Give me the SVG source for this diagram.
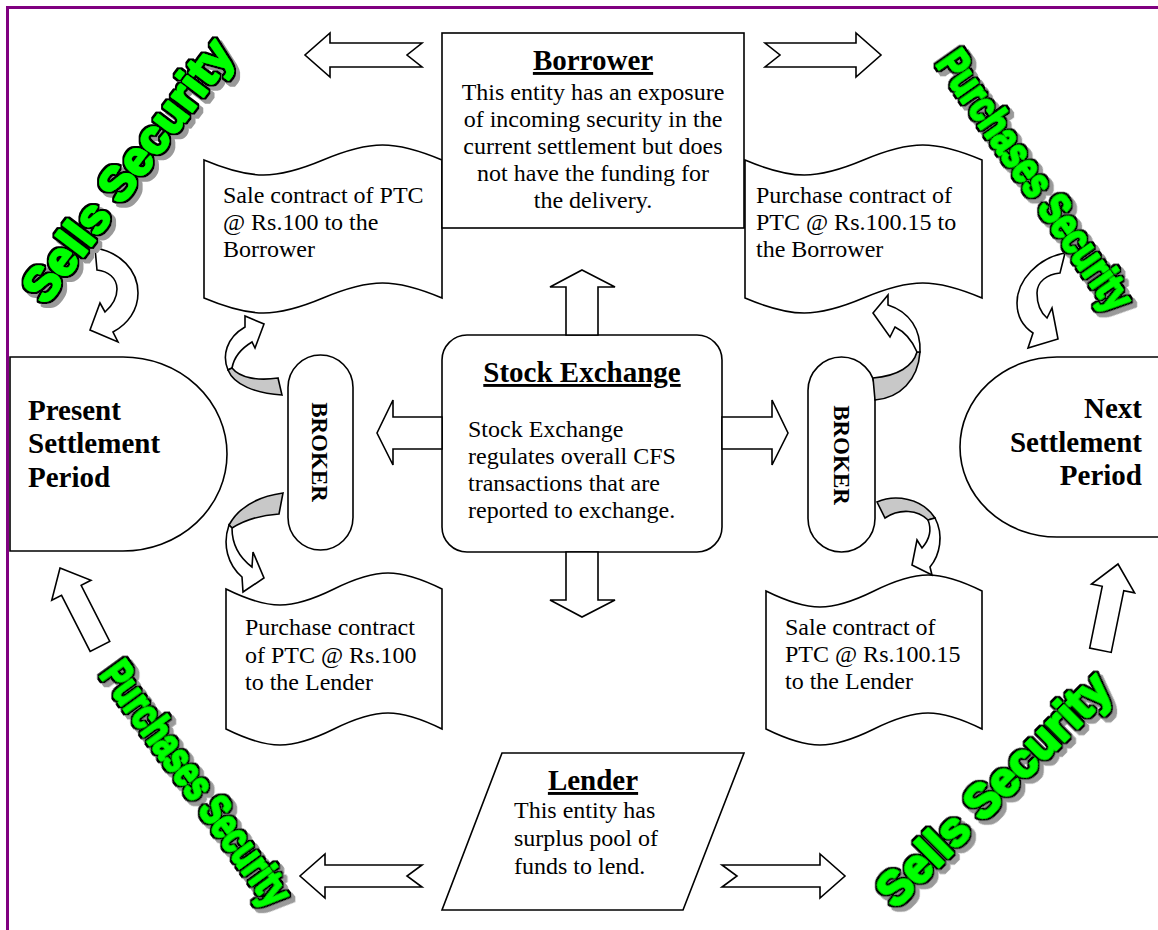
<svg xmlns="http://www.w3.org/2000/svg" width="1158" height="930" viewBox="0 0 1158 930">
<style>
.s{fill:#fff;stroke:#000;stroke-width:1.6;stroke-linejoin:miter}
.g{fill:#c8c8c8;stroke:#000;stroke-width:1.6}
.t{font-family:"Liberation Serif","Times New Roman",serif;font-size:24px;fill:#000}
.tb{font-family:"Liberation Serif","Times New Roman",serif;font-size:29px;font-weight:bold;fill:#000}
.u{text-decoration:underline}
.bk{font-family:"Liberation Serif","Times New Roman",serif;font-size:23px;font-weight:bold;fill:#000}
.wa{font-family:"Liberation Sans",Arial,sans-serif;font-weight:bold;fill:#00ff00;stroke:#00ff00;stroke-width:2.2;stroke-linejoin:round}
</style>
<defs>
<filter id="waf" filterUnits="userSpaceOnUse" x="0" y="0" width="1158" height="930">
<feMorphology in="SourceAlpha" operator="dilate" radius="2" result="d"/>
<feFlood flood-color="#000"/>
<feComposite in2="d" operator="in" result="outline"/>
<feFlood flood-color="#9a9a9a"/>
<feComposite in2="d" operator="in"/>
<feOffset dx="4" dy="4" result="shadow"/>
<feMerge><feMergeNode in="shadow"/><feMergeNode in="outline"/><feMergeNode in="SourceGraphic"/></feMerge>
</filter>
</defs>
<rect x="0" y="0" width="1158" height="930" fill="#fff"/>
<rect x="7.5" y="7.5" width="1200" height="1000" fill="none" stroke="#800080" stroke-width="3"/>

<g id="scroll-sale-borrower">
<path class="s" d="M204,160 C251.6,180 275.4,180 323,160 C370.6,140 394.4,140 442,160 L442,298 C394.4,278 370.6,278 323,298 C275.4,318 251.6,318 204,298 Z"/>
<text class="t" x="223" y="203">Sale contract of PTC</text>
<text class="t" x="223" y="230">@ Rs.100 to the</text>
<text class="t" x="223" y="257">Borrower</text>
</g>
<g id="scroll-purchase-borrower">
<path class="s" d="M745,160 C792.4,180 816.1,180 863.5,160 C910.9,140 934.6,140 982,160 L982,298 C934.6,278 910.9,278 863.5,298 C816.1,318 792.4,318 745,298 Z"/>
<text class="t" x="756" y="203">Purchase contract of</text>
<text class="t" x="756" y="230">PTC @ Rs.100.15 to</text>
<text class="t" x="756" y="257">the Borrower</text>
</g>
<g id="scroll-purchase-lender">
<path class="s" d="M226,589 C269.2,610.3 290.8,610.3 334,589 C377.2,567.7 398.8,567.7 442,589 L442,729 C398.8,707.7 377.2,707.7 334,729 C290.8,750.3 269.2,750.3 226,729 Z"/>
<text class="t" x="245" y="635">Purchase contract</text>
<text class="t" x="245" y="663">of PTC @ Rs.100</text>
<text class="t" x="245" y="690">to the Lender</text>
</g>
<g id="scroll-sale-lender">
<path class="s" d="M766,591 C809.2,612.3 830.8,612.3 874,591 C917.2,569.7 938.8,569.7 982,591 L982,729 C938.8,707.7 917.2,707.7 874,729 C830.8,750.3 809.2,750.3 766,729 Z"/>
<text class="t" x="785" y="635">Sale contract of</text>
<text class="t" x="785" y="662">PTC @ Rs.100.15</text>
<text class="t" x="785" y="689">to the Lender</text>
</g>

<g id="borrower">
<rect class="s" x="442" y="33" width="302" height="195"/>
<text class="tb u" x="593" y="70" text-anchor="middle">Borrower</text>
<text class="t" text-anchor="middle"><tspan x="593" y="100">This entity has an exposure</tspan><tspan x="593" y="127">of incoming security in the</tspan><tspan x="593" y="154">current settlement but does</tspan><tspan x="593" y="181">not have the funding for</tspan><tspan x="593" y="208">the delivery.</tspan></text>
</g>

<g id="stock-exchange">
<rect class="s" x="442" y="335" width="280" height="217" rx="25"/>
<text class="tb u" x="582" y="382" text-anchor="middle">Stock Exchange</text>
<text class="t"><tspan x="468" y="437">Stock Exchange</tspan><tspan x="468" y="464">regulates overall CFS</tspan><tspan x="468" y="491">transactions that are</tspan><tspan x="468" y="518">reported to exchange.</tspan></text>
</g>

<g id="lender">
<polygon class="s" points="502,753 744,753 683,910 442,910"/>
<text class="tb u" x="593" y="790" text-anchor="middle">Lender</text>
<text class="t"><tspan x="514" y="818">This entity has</tspan><tspan x="514" y="846">surplus pool of</tspan><tspan x="514" y="874">funds to lend.</tspan></text>
</g>

<g id="broker-left">
<rect class="s" x="288" y="355" width="65" height="195" rx="32.5"/>
<text class="bk" transform="translate(320,452) rotate(90)" x="0" y="8" text-anchor="middle">BROKER</text>
</g>
<g id="broker-right">
<rect class="s" x="808" y="357" width="67" height="195" rx="33.5"/>
<text class="bk" transform="translate(842,455) rotate(90)" x="0" y="8" text-anchor="middle">BROKER</text>
</g>

<g id="present-settlement">
<path class="s" d="M10,357 L123,357 A104,97 0 0 1 123,551 L10,551 Z"/>
<text class="tb"><tspan x="28" y="420">Present</tspan><tspan x="28" y="453">Settlement</tspan><tspan x="28" y="487">Period</tspan></text>
</g>
<g id="next-settlement">
<path class="s" d="M1162,357 L1057,357 A97,90 0 0 0 1057,537 L1162,537"/>
<text class="tb" text-anchor="end"><tspan x="1142" y="418">Next</tspan><tspan x="1142" y="452">Settlement</tspan><tspan x="1142" y="485">Period</tspan></text>
</g>

<g id="connectors">
<polygon class="s" points="582,270 615,287 598,287 598,335 566,335 566,287 550,287"/>
<polygon class="s" points="566,552 598,552 598,600 615,600 582,617 550,600 566,600"/>
<polygon class="s" points="442,417 393,417 393,400 377,433 393,465 393,449 442,449"/>
<polygon class="s" points="722,417 772,417 772,400 788,433 772,465 772,449 722,449"/>
<polygon class="s" points="422,43 330,43 330,33 305,55 330,77 330,67 422,67 407,55"/>
<polygon class="s" points="765,43 856,43 856,33 881,55 856,77 856,67 765,67 780,55"/>
<polygon class="s" points="422,865 325,865 325,854 300,876 325,898 325,887 422,887 407,876"/>
<polygon class="s" points="722,865 820,865 820,854 845,876 820,898 820,887 722,887 737,876"/>
<polygon class="s" transform="translate(60,568) rotate(-27)" points="0,0 22,25 11,25 11,88 -11,88 -11,25 -22,25"/>
<polygon class="s" transform="translate(1118,564) rotate(11.5)" points="0,0 22,25 11,25 11,88 -11,88 -11,25 -22,25"/>
<path class="s" d="M95,248 C120,252 138,270 138,293 C138,310 128,324 113,332 L118,342 L90,330 L100,303 L105,312 C113,305 117,297 117,289 C117,278 108,271 97,270 Z"/>
<path class="s" d="M1065,253 C1038,258 1017,280 1017,303 C1017,317 1024,327 1033,333 L1028,348 L1058,339 L1052,308 L1047,318 C1040,312 1037,302 1037,293 C1037,282 1047,274 1060,273 Z"/>
<path class="s" d="M228,370 C222,356 226,338 245,327 L245,316 L264,324 L255,348 L252,342 C242,348 234,357 232,368 Z"/>
<path class="g" d="M228,370 C234,385 255,393 282,395 L278,378 C258,381 240,378 232,368 Z"/>
<path class="g" d="M283,493 C262,496 240,505 229,525 L232,528 C245,520 262,515 279,514 Z"/>
<path class="s" d="M229,525 C222,545 228,565 242,577 L243,592 L264,578 L253,552 L252,567 C240,558 232,545 232,528 Z"/>
<path class="g" d="M875,400 C900,398 918,380 920,352 L917,352 C913,366 898,376 873,378 Z"/>
<path class="s" d="M920,352 C921,330 910,312 888,305 L888,295 L873,313 L890,337 L895,327 C905,332 912,340 917,352 Z"/>
<path class="g" d="M877,502 C895,494 922,498 935,518 L928,520 C918,510 900,508 885,518 Z"/>
<path class="s" d="M935,518 C944,535 940,555 930,567 L932,575 L912,565 L917,540 L922,548 C929,540 932,530 928,520 Z"/>
</g>

<g id="wordart" filter="url(#waf)">
<text class="wa" transform="translate(127,170) rotate(-53) scale(1,1)" x="0" y="17" font-size="48" text-anchor="middle">Sells Security</text>
<text class="wa" transform="translate(1036,180) rotate(55) scale(0.75,1)" x="0" y="16" font-size="44" text-anchor="middle">Purchases Security</text>
<text class="wa" transform="translate(197,783) rotate(54) scale(0.71,1)" x="0" y="16" font-size="44" text-anchor="middle">Purchases Security</text>
<text class="wa" transform="translate(993,789) rotate(-45) scale(0.98,1)" x="0" y="17" font-size="48" text-anchor="middle">Sells Security</text>
</g>
</svg>
